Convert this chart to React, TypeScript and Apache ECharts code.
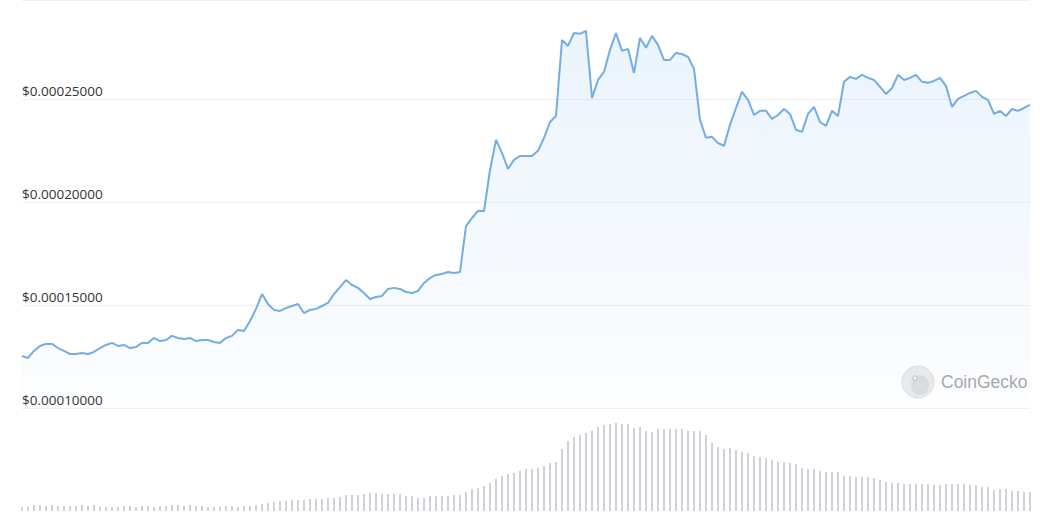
import React, { useEffect, useRef } from "react";
import * as echarts from "echarts";

// Price in units of 1e-5 USD, one value per period
const priceE5: number[] = [
  12.52, 12.43, 12.77, 13.01, 13.11, 13.11, 12.91, 12.77, 12.62, 12.62,
  12.67, 12.62, 12.72, 12.91, 13.06, 13.16, 13.01, 13.06, 12.91, 12.96,
  13.16, 13.16, 13.4, 13.25, 13.3, 13.5, 13.4, 13.35, 13.4, 13.25,
  13.3, 13.3, 13.2, 13.16, 13.4, 13.5, 13.79, 13.74, 14.22, 14.81,
  15.53, 15.05, 14.76, 14.71, 14.85, 14.95, 15.05, 14.61, 14.76, 14.81,
  14.95, 15.1, 15.53, 15.87, 16.21, 15.97, 15.83, 15.58, 15.29, 15.39,
  15.44, 15.78, 15.83, 15.78, 15.63, 15.58, 15.68, 16.07, 16.31, 16.46,
  16.5, 16.6, 16.55, 16.6, 18.83, 19.22, 19.56, 19.56, 21.55, 23.01,
  22.38, 21.6, 22.04, 22.23, 22.23, 22.23, 22.48, 23.11, 23.88, 24.17,
  27.86, 27.57, 28.2, 28.16, 28.3, 25.05, 25.92, 26.31, 27.38, 28.2,
  27.33, 27.43, 26.26, 27.96, 27.48, 28.06, 27.62, 26.89, 26.89, 27.23,
  27.18, 27.04, 26.46, 23.98, 23.11, 23.16, 22.86, 22.72, 23.74, 24.56,
  25.34, 24.95, 24.22, 24.42, 24.42, 24.03, 24.22, 24.51, 24.27, 23.5,
  23.4, 24.27, 24.61, 23.88, 23.69, 24.42, 24.17, 25.83, 26.07, 25.97,
  26.17, 26.02, 25.92, 25.58, 25.24, 25.53, 26.17, 25.92, 26.02, 26.17,
  25.83, 25.78, 25.87, 26.02, 25.63, 24.61, 25.0, 25.15, 25.29, 25.39,
  25.1, 24.95, 24.27, 24.42, 24.17, 24.51, 24.42, 24.56, 24.71,
];

// Trading volume (relative units) per period
const volumes: number[] = [
  4, 4, 6, 6, 5, 6, 5, 5, 5, 5, 6, 5, 6, 4, 4, 4, 4, 5, 5, 4,
  5, 5, 4, 5, 5, 6, 6, 5, 6, 5, 5, 4, 4, 4, 5, 5,
  4, 5, 5, 6, 7, 8, 9, 10, 10, 11,
  11, 11, 12, 12, 12, 13, 13, 14, 16, 16,
  16, 17, 18, 18, 17, 17, 17, 17, 15, 15,
  13, 13, 15, 15, 15, 15, 16, 16, 19, 22,
  23, 25, 28, 32, 35, 37, 38, 40, 42, 42,
  43, 45, 48, 49, 62, 70, 74, 76, 78, 80,
  84, 86, 87, 88, 87, 87, 83, 84, 80, 79,
  82, 82, 82, 82, 82, 80, 80, 80, 76, 68,
  64, 62, 63, 61, 59, 58, 55, 54, 53, 51,
  49, 49, 48, 47, 43, 42, 42, 40, 39, 39,
  39, 35, 35, 34, 34, 34, 33, 31, 29, 28,
  28, 27, 27, 27, 27, 27, 26, 26, 27, 27,
  27, 27, 26, 26, 24, 24, 21, 22, 22, 20,
  20, 19, 19,
];

const priceAxis = { min: 0.0001, max: 0.000298, interval: 0.00005 };
const volumeMax = 100;

export default function App() {
  const ref = useRef<HTMLDivElement>(null);

  useEffect(() => {
    document.body.style.margin = "0";
    if (!ref.current) return;
    const chart = echarts.init(ref.current, undefined, { renderer: "svg" });
    const prices = priceE5.map((v) => +(v * 1e-5).toFixed(10));
    const lineColor = "#74ade2";

    chart.setOption({
      animation: false,
      backgroundColor: "#ffffff",
      grid: [
        { left: 22, right: 10, top: 0, bottom: 105 },
        { left: 22, right: 10, top: 411, bottom: 2 },
      ],
      xAxis: [
        {
          type: "category",
          gridIndex: 0,
          boundaryGap: false,
          data: prices.map((_, i) => String(i + 1)),
          axisLine: { show: false },
          axisTick: { show: false },
          axisLabel: { show: false },
          splitLine: { show: false },
        },
        {
          type: "category",
          gridIndex: 1,
          boundaryGap: false,
          data: volumes.map((_, i) => String(i + 1)),
          axisLine: { show: false },
          axisTick: { show: false },
          axisLabel: { show: false },
          splitLine: { show: false },
        },
      ],
      yAxis: [
        {
          type: "value",
          gridIndex: 0,
          min: priceAxis.min,
          max: priceAxis.max,
          interval: priceAxis.interval,
          axisLine: { show: false },
          axisTick: { show: false },
          splitLine: { show: true, lineStyle: { color: "#f0f0f0", width: 1 } },
          axisLabel: {
            inside: true,
            margin: 0,
            showMaxLabel: false,
            verticalAlign: "bottom",
            padding: [0, 0, 1, 0],
            color: "#333333",
            fontFamily: "Open Sans",
            fontSize: 13.5,
            formatter: (v: number) => "$" + v.toFixed(8),
          },
        },
        {
          type: "value",
          gridIndex: 1,
          min: 0,
          max: volumeMax,
          axisLine: { show: false },
          axisTick: { show: false },
          axisLabel: { show: false },
          splitLine: { show: false },
        },
      ],
      series: [
        {
          type: "line",
          xAxisIndex: 0,
          yAxisIndex: 0,
          data: prices,
          symbol: "none",
          smooth: false,
          lineStyle: { color: lineColor, width: 2 },
          areaStyle: {
            origin: "start",
            color: new echarts.graphic.LinearGradient(0, 0, 0, 1, [
              { offset: 0, color: "rgba(124,181,236,0.22)" },
              { offset: 1, color: "rgba(124,181,236,0.03)" },
            ]),
          },
          z: 3,
        },
        {
          type: "bar",
          xAxisIndex: 1,
          yAxisIndex: 1,
          data: volumes,
          barWidth: 2,
          itemStyle: { color: "#cfd2d8" },
        },
      ],
      graphic: [
        {
          type: "line",
          shape: { x1: 22, y1: 0.5, x2: 1030, y2: 0.5 },
          style: { stroke: "#f2f2f2", lineWidth: 1 },
          silent: true,
        },
        {
          type: "group",
          silent: true,
          z: 10,
          children: [
            {
              type: "circle",
              shape: { cx: 918, cy: 382, r: 16 },
              style: { fill: "#ebebeb", stroke: "#dedede", lineWidth: 1 },
            },
            {
              type: "ellipse",
              shape: { cx: 920, cy: 385, rx: 9, ry: 10 },
              style: { fill: "#dcdcdc" },
            },
            {
              type: "circle",
              shape: { cx: 915, cy: 378, r: 2.2 },
              style: { fill: "#f7f7f7", stroke: "#bdbdbd", lineWidth: 1 },
            },
            {
              type: "text",
              x: 941,
              y: 382,
              style: {
                text: "CoinGecko",
                fill: "#a8a8a8",
                font: "17.5px 'Liberation Sans', Arial, sans-serif",
                verticalAlign: "middle",
                align: "left",
              },
            },
          ],
        },
      ],
    });

    return () => chart.dispose();
  }, []);

  return <div ref={ref} style={{ width: 1040, height: 513 }} />;
}
